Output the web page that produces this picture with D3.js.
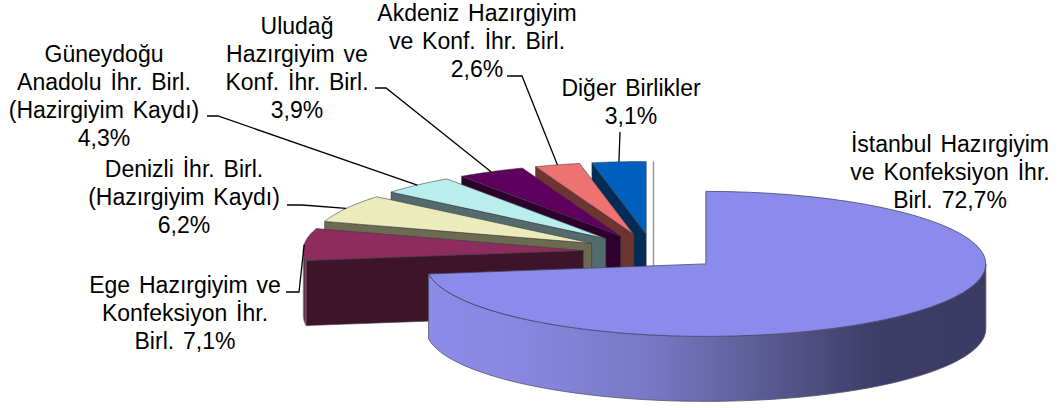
<!DOCTYPE html>
<html>
<head>
<meta charset="utf-8">
<script src="https://cdn.jsdelivr.net/npm/d3@7"></script>
<style>
html, body { margin: 0; padding: 0; background: #fff; }
text { font-family: "Liberation Sans", Arial, sans-serif; font-size: 23px; fill: #000; text-anchor: middle; word-spacing: 2.5px; }
</style>
</head>
<body>
<div id="graphic"></div>
<script>
var categories = ["İstanbul Hazırgiyim ve Konfeksiyon İhr. Birl.", "Ege Hazırgiyim ve Konfeksiyon İhr. Birl.", "Denizli İhr. Birl. (Hazırgiyim Kaydı)", "Güneydoğu Anadolu İhr. Birl. (Hazirgiyim Kaydı)", "Uludağ Hazırgiyim ve Konf. İhr. Birl.", "Akdeniz Hazırgiyim ve Konf. İhr. Birl.", "Diğer Birlikler"];
var values = [72.7, 7.1, 6.2, 4.3, 3.9, 2.6, 3.1];
var labelLines = [
  ["İstanbul Hazırgiyim", "ve Konfeksiyon İhr.", "Birl. 72,7%"],
  ["Ege Hazırgiyim ve", "Konfeksiyon İhr.", "Birl. 7,1%"],
  ["Denizli İhr. Birl.", "(Hazırgiyim Kaydı)", "6,2%"],
  ["Güneydoğu", "Anadolu İhr. Birl.", "(Hazirgiyim Kaydı)", "4,3%"],
  ["Uludağ", "Hazırgiyim ve", "Konf. İhr. Birl.", "3,9%"],
  ["Akdeniz Hazırgiyim", "ve Konf. İhr. Birl.", "2,6%"],
  ["Diğer Birlikler", "3,1%"]
];
var topColors = ["#8b8bec", "#8e2c5e", "#ececba", "#b9eeee", "#5f005f", "#ee7370", "#0060bf"];
var sideColors = ["url(#bigSide)", "#3d1428", "#6b6b50", "#546b6b", "#2e002e", "#6f3430", "#002c57"];

// label placement: centre x, baseline of first line
var labelX = [950, 185, 184, 104, 297, 477, 631];
var labelY = [152, 293, 177, 62, 34, 21, 96];
var lineGap = 28;
// leader start and elbow, the far end is worked out from the slice
var leaderStart = [null, [286, 292], [287, 205], [207, 116], [375, 88], [507, 76], [620, 132]];
var leaderElbow = [null, [299, 292], [302, 205], [218, 116], [386, 88], [522, 76], null];

var cx = 653, cy = 252, rx = 280, ry = 72.5, depth = 65, explode = 0.25;

var svg = d3.select("#graphic").append("svg").attr("width", 1062).attr("height", 410);

var x = d3.scaleLinear().domain([-1, 1]).range([cx - rx, cx + rx]);
var y = d3.scaleLinear().domain([-1, 1]).range([cy + ry, cy - ry]);

var grad = svg.append("defs").append("linearGradient").attr("id", "bigSide")
  .attr("gradientUnits", "userSpaceOnUse")
  .attr("x1", 429).attr("x2", 986).attr("y1", 0).attr("y2", 0);
[[0, "#8b8be9"], [0.15, "#8888e2"], [0.4, "#7878c6"], [0.58, "#5e5e98"], [0.8, "#3d3d68"], [1, "#3a3a62"]].forEach(function(s) {
  grad.append("stop").attr("offset", s[0]).attr("stop-color", s[1]);
});

var pie = d3.pie().sort(null).value(function(d) { return d; });
var slices = pie(values);

var line = d3.line().x(function(d) { return d[0]; }).y(function(d) { return d[1]; });

function apex(d) {
  var mid = (d.startAngle + d.endAngle) / 2;
  return [explode * Math.sin(mid), explode * Math.cos(mid)];
}
function rimPoint(d, a, dy) {
  var o = apex(d);
  return [x(o[0] + Math.sin(a)), y(o[1] + Math.cos(a)) + (dy || 0)];
}
function rim(d, from, to, dy) {
  return d3.range(0, 61).map(function(i) {
    return rimPoint(d, from + (to - from) * i / 60, dy);
  });
}
function centre(d, dy) {
  var o = apex(d);
  return [x(o[0]), y(o[1]) + (dy || 0)];
}

var g = svg.append("g").attr("stroke-linejoin", "round");
var edge = "#3a3a44";

// stray hairline the original leaves where the pie closes at 12 o'clock
g.append("line")
  .attr("x1", cx + 0.5).attr("x2", cx + 0.5)
  .attr("y1", y(1 + explode)).attr("y2", y(explode) + depth)
  .attr("stroke", "#9a9a9a").attr("stroke-width", 1.5);

// back to front: small slices from 12 o'clock round to the big one
slices.slice(1).reverse().forEach(function(d) {
  var i = d.index;
  var a = centre(d), b = rimPoint(d, d.startAngle);
  // cut face
  g.append("path")
    .attr("d", line([a, b, rimPoint(d, d.startAngle, depth), centre(d, depth)]) + "Z")
    .attr("fill", sideColors[i]).attr("stroke", edge).attr("stroke-width", 0.6);
  // outer wall, only the part turned towards us
  if (d.startAngle < 1.5 * Math.PI) {
    var top = rim(d, d.startAngle, 1.5 * Math.PI);
    var bottom = rim(d, 1.5 * Math.PI, d.startAngle, depth);
    g.append("path").attr("d", line(top.concat(bottom)) + "Z")
      .attr("fill", "#6b2b4f").attr("stroke", "#8a8a8a").attr("stroke-width", 0.6);
  }
  g.append("path")
    .attr("d", line([a].concat(rim(d, d.startAngle, d.endAngle))) + "Z")
    .attr("fill", topColors[i]).attr("stroke", edge).attr("stroke-width", 0.6);
});

// big slice
var big = slices[0];
var wallTop = rim(big, Math.PI / 2, big.endAngle);
var wallBottom = rim(big, big.endAngle, Math.PI / 2, depth);
g.append("path").attr("d", line(wallTop.concat(wallBottom)) + "Z")
  .attr("fill", sideColors[0]).attr("stroke", "#55556a").attr("stroke-width", 0.8);
g.append("path")
  .attr("d", line([centre(big)].concat(rim(big, big.startAngle, big.endAngle))) + "Z")
  .attr("fill", topColors[0]).attr("stroke", "#44446a").attr("stroke-width", 0.8);

// leaders
slices.forEach(function(d, i) {
  if (!leaderStart[i]) return;
  var pts = [leaderStart[i]];
  if (leaderElbow[i]) pts.push(leaderElbow[i]);
  pts.push(rimPoint(d, (d.startAngle + d.endAngle) / 2));
  svg.append("path").attr("d", line(pts))
    .attr("fill", "none").attr("stroke", "#000").attr("stroke-width", 1.3);
});

// labels
labelLines.forEach(function(lines, i) {
  var t = svg.append("text").attr("data-category", categories[i]);
  lines.forEach(function(s, j) {
    t.append("tspan").attr("x", labelX[i]).attr("y", labelY[i] + j * lineGap).text(s);
  });
});
</script>
</body>
</html>
